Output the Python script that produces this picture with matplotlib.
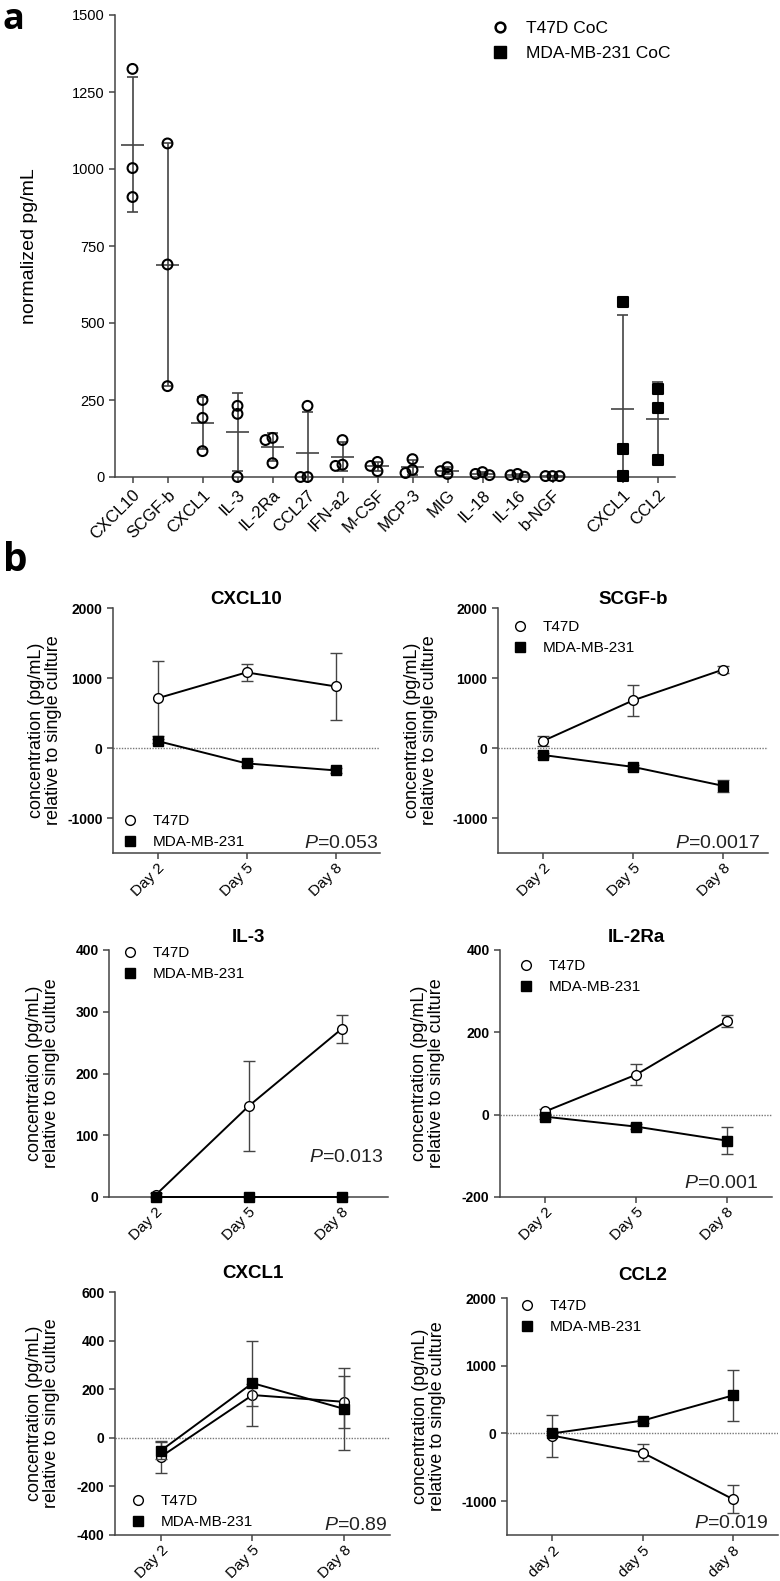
import matplotlib
matplotlib.use('Agg')
import matplotlib.pyplot as plt
from matplotlib.lines import Line2D
import numpy as np

plt.rcParams['font.family'] = ['Liberation Sans', 'DejaVu Sans']
plt.rcParams['axes.unicode_minus'] = False
plt.rcParams['mathtext.fontset'] = 'custom'
plt.rcParams['mathtext.it'] = 'Liberation Sans:italic'
plt.rcParams['mathtext.rm'] = 'Liberation Sans'

# ---- panel a data (normalized pg/mL, three replicates each) ----
t47d_cytokines = ['CXCL10', 'SCGF-b', 'CXCL1', 'IL-3', 'IL-2Ra', 'CCL27', 'IFN-a2',
                  'M-CSF', 'MCP-3', 'MIG', 'IL-18', 'IL-16', 'b-NGF']
t47d_values = [[1325, 1003, 909], [1083, 690, 295], [250, 192, 84], [231, 205, 0],
               [127, 120, 45], [231, 0, 0], [120, 40, 36], [49, 36, 19],
               [58, 13, 23], [32, 10, 19], [16, 6, 10], [10, 1, 6], [3, 3, 3]]
mda_cytokines = ['CXCL1', 'CCL2']
mda_values = [[568, 91, 3], [286, 224, 55]]

# ---- panel b data (mean and SD per day) ----
panel_names = ['CXCL10', 'SCGF-b', 'IL-3', 'IL-2Ra', 'CXCL1', 'CCL2']
days = ['Day 2', 'Day 5', 'Day 8']
days_ccl2 = ['day 2', 'day 5', 'day 8']
t47d_mean = [[710, 1080, 880], [100, 680, 1120], [3, 147, 272],
             [8, 97, 227], [-78, 176, 148], [-32, -283, -970]]
t47d_sd = [[540, 120, 480], [70, 220, 50], [3, 73, 23],
           [6, 25, 15], [65, 47, 107], [310, 124, 206]]
mda_mean = [[100, -220, -320], [-100, -270, -540], [0, 0, 0],
            [-5, -29, -63], [-53, 225, 119], [0, 189, 561]]
mda_sd = [[30, 30, 30], [30, 30, 90], [0, 0, 0],
          [5, 6, 33], [35, 175, 170], [30, 30, 372]]
p_values = ['0.053', '0.0017', '0.013', '0.001', '0.89', '0.019']

W, H = 780, 1581
gray = '#444444'
fig = plt.figure(figsize=(W / 100, H / 100), dpi=100)


def rect(l, t, r, b):
    return [l / W, 1 - b / H, (r - l) / W, (b - t) / H]


def swarm(vals, units_per_px, step=0.2, px_per_cat=35, min_dist=6.5):
    # spread overlapping replicate points sideways, like a column scatter
    offs = np.zeros(len(vals))
    placed = []
    for k in np.argsort(vals)[::-1]:
        for c in [0, -1, 1, -2, 2]:
            ok = all(np.hypot((c * step - o) * px_per_cat, (vals[k] - v) / units_per_px) >= min_dist
                     for o, v in placed)
            if ok:
                break
        offs[k] = c * step
        placed.append((c * step, vals[k]))
    return offs


def style_axes(ax):
    for s in ['top', 'right']:
        ax.spines[s].set_visible(False)
    for s in ['left', 'bottom']:
        ax.spines[s].set_color(gray)
        ax.spines[s].set_linewidth(1.1)
    ax.tick_params(color=gray, width=1.1, length=4)


# ================= panel a =================
ax = fig.add_axes(rect(115, 15, 675, 477))
style_axes(ax)
ypp = 1500 / 462


def draw_group(x, vals, marker, filled):
    offs = swarm(vals, ypp)
    ax.scatter(x + offs, vals, marker=marker, s=50 if marker == 'o' else 60,
               facecolors='black' if filled else 'none', edgecolors='black',
               linewidths=1.5, zorder=3, clip_on=False)
    m = np.mean(vals)
    sd = np.std(vals, ddof=1)
    ax.hlines(m, x - 0.33, x + 0.33, color=gray, lw=1.2, zorder=2)
    ax.vlines(x, m - sd, m + sd, color=gray, lw=1.2, zorder=2)
    ax.hlines([m - sd, m + sd], x - 0.17, x + 0.17, color=gray, lw=1.2, zorder=2)


for i, vals in enumerate(t47d_values):
    draw_group(i, vals, 'o', False)
mda_pos = [len(t47d_values) + 1 + j for j in range(len(mda_values))]
for x, vals in zip(mda_pos, mda_values):
    draw_group(x, vals, 's', True)

ax.set_xlim(-0.5, mda_pos[-1] + 0.5)
ax.set_ylim(0, 1500)
ax.set_yticks([0, 250, 500, 750, 1000, 1250, 1500])
ax.set_xticks(list(range(len(t47d_cytokines))) + mda_pos)
ax.set_xticklabels(t47d_cytokines + mda_cytokines, rotation=45, ha='right',
                   rotation_mode='anchor', fontsize=12)
ax.tick_params(axis='y', labelsize=10.5)
ax.set_ylabel('normalized pg/mL', fontsize=14, va='center')
ax.yaxis.set_label_coords((30 - 115) / 560, 0.5)

handles = [Line2D([], [], ls='none', marker='o', ms=7, mfc='none', mec='black', mew=1.8),
           Line2D([], [], ls='none', marker='s', ms=8, mfc='black', mec='black')]
ax.legend(handles, ['T47D CoC', 'MDA-MB-231 CoC'], loc='upper left', frameon=False,
          bbox_to_anchor=(491 / W, 1 - 21 / H), bbox_transform=fig.transFigure,
          fontsize=12.5, handlelength=1.0, handletextpad=1.0, labelspacing=0.55,
          borderpad=0, borderaxespad=0)

fig.text(3 / W, 1 - 2 / H, 'a', fontsize=26, fontweight='bold', va='top',
         family=['Open Sans', 'DejaVu Sans'])
fig.text(3 / W, 1 - 541 / H, 'b', fontsize=28, fontweight='bold', va='top',
         family=['Open Sans', 'DejaVu Sans'])

# ================= panel b =================
axes_px = [(113, 608, 380, 853), (498, 608, 768, 853), (109, 950, 388, 1197),
           (500, 950, 772, 1197), (115, 1292, 390, 1535), (507, 1298, 778, 1535)]
ylims = [(-1500, 2000), (-1500, 2000), (0, 400), (-200, 400), (-400, 600), (-1500, 2000)]
yticks = [[-1000, 0, 1000, 2000], [-1000, 0, 1000, 2000], [0, 100, 200, 300, 400],
          [-200, 0, 200, 400], [-400, -200, 0, 200, 400, 600], [-1000, 0, 1000, 2000]]
title_pad_px = [1, 1, 8, 8, 14, 18]
ylabel_x_px = [45, 421, 43, 428, 43, 429]
legend_px = [(124, 814), (514, 620), (124, 946), (520, 959), (132, 1494), (521, 1299)]
p_px = [(378, 843), (760, 843), (383, 1158), (758, 1183), (387, 1525), (768, 1523)]

for k, name in enumerate(panel_names):
    l, t, r, b = axes_px[k]
    ax = fig.add_axes(rect(l, t, r, b))
    style_axes(ax)
    x = np.arange(len(days))
    if ylims[k][0] < 0:
        ax.axhline(0, color='#777777', lw=1.0, ls=(0, (1, 1)), zorder=1)
    ax.errorbar(x, t47d_mean[k], yerr=t47d_sd[k], color='black', lw=1.4,
                ecolor=gray, elinewidth=1.0, capsize=4.3, capthick=1.0,
                marker='o', ms=7, mfc='white', mec='black', mew=1.0,
                zorder=3, clip_on=False, label='T47D')
    ax.errorbar(x, mda_mean[k], yerr=mda_sd[k], color='black', lw=1.4,
                ecolor=gray, elinewidth=1.0, capsize=4.3, capthick=1.0,
                marker='s', ms=7, mfc='black', mec='black',
                zorder=4, clip_on=False, label='MDA-MB-231')
    ax.set_xlim(-0.5, 2.5)
    ax.set_ylim(*ylims[k])
    ax.set_yticks(yticks[k])
    ax.set_xticks(x)
    ax.set_xticklabels(days_ccl2 if name == 'CCL2' else days, rotation=45, ha='right',
                       rotation_mode='anchor', fontsize=11)
    ax.tick_params(axis='x', pad=2)
    ax.tick_params(axis='y', labelsize=10)
    for lab in ax.get_yticklabels():
        lab.set_fontweight('bold')
    ax.set_title(name, fontsize=13.5, fontweight='bold', pad=title_pad_px[k] * 0.72)
    ax.set_ylabel('concentration (pg/mL)\nrelative to single culture', fontsize=13,
                  va='center', linespacing=1.0)
    ax.yaxis.set_label_coords((ylabel_x_px[k] - l) / (r - l), 0.5)

    handles = [Line2D([], [], ls='none', marker='o', ms=7, mfc='white', mec='black', mew=1.0),
               Line2D([], [], ls='none', marker='s', ms=7, mfc='black', mec='black')]
    lx, ly = legend_px[k]
    ax.legend(handles, ['T47D', 'MDA-MB-231'], loc='upper left', frameon=False,
              bbox_to_anchor=(lx / W, 1 - ly / H), bbox_transform=fig.transFigure,
              fontsize=11, handlelength=0.8, handletextpad=1.05, labelspacing=0.45,
              borderpad=0, borderaxespad=0)
    px, py = p_px[k]
    fig.text(px / W, 1 - py / H, r'$\mathit{P}$=' + p_values[k], fontsize=14,
             ha='right', va='center', color='#222222')

fig.savefig('out.png', dpi=100)
